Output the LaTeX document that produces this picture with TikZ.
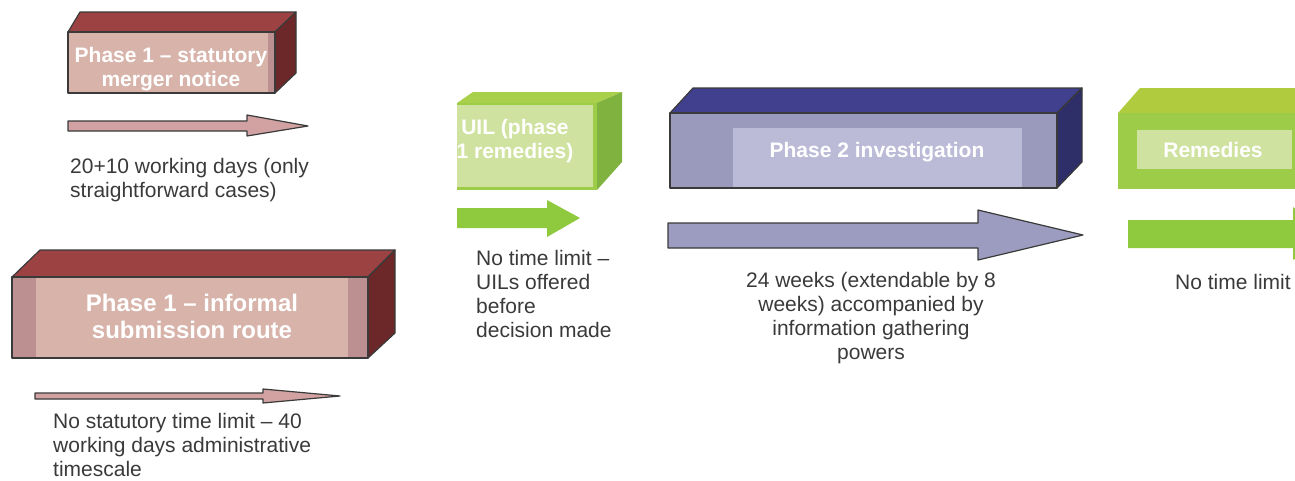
\documentclass[tikz,border=0pt]{standalone}
\usepackage{fontspec}
\setmainfont{Liberation Sans}
\definecolor{redtop}{HTML}{9C4242}
\definecolor{redside}{HTML}{6C2828}
\definecolor{redfront}{HTML}{D7B3AA}
\definecolor{redstrip}{HTML}{BC9090}
\definecolor{pinkarrow}{HTML}{D2A2A2}
\definecolor{outline}{HTML}{3A3A3A}
\definecolor{greentop}{HTML}{A8D04A}
\definecolor{greenside}{HTML}{7FB23E}
\definecolor{greenfront}{HTML}{9CCC48}
\definecolor{greeninset}{HTML}{CFE2A0}
\definecolor{greenarrow}{HTML}{8FCA3E}
\definecolor{remtop}{HTML}{B0CC3E}
\definecolor{bluetop}{HTML}{40408E}
\definecolor{blueside}{HTML}{2E2E68}
\definecolor{bluefront}{HTML}{9A9ABC}
\definecolor{blueinset}{HTML}{BBBBD8}
\definecolor{bluearrow}{HTML}{9C9CC0}
\definecolor{txt}{HTML}{3A3A3A}
\tikzset{
  edged/.style={draw=outline, line width=1.2pt, line join=round},
  boxtext/.style={text=white, font=\bfseries\fontsize{21}{24}\selectfont, align=center, inner sep=0pt},
  bigboxtext/.style={text=white, font=\bfseries\fontsize{24}{27}\selectfont, align=center, inner sep=0pt},
  note/.style={text=txt, font=\fontsize{21}{24}\selectfont, inner sep=0pt},
}
\begin{document}
\begin{tikzpicture}[x=1pt,y=-1pt]
\useasboundingbox (0,0) rectangle (1295,480);
\clip (0,0) rectangle (1295,480);

% ---- Box 1: Phase 1 statutory
\filldraw[edged, fill=redtop] (68,32) -- (80,12) -- (296,12) -- (275,32) -- cycle;
\filldraw[edged, fill=redside] (275,32) -- (296,12) -- (296,73) -- (275,93) -- cycle;
\fill[redfront] (68,32) rectangle (275,93);
\fill[redstrip] (268,32) rectangle (275,93);
\draw[edged] (68,32) rectangle (275,93);
\node[boxtext, anchor=base] (p1s) at (171,86) {Phase 1 – statutory\\merger notice};

% arrow 1
\filldraw[edged, fill=pinkarrow] (68,121) -- (247,121) -- (247,115) -- (308,126) -- (247,136) -- (247,131) -- (68,131) -- cycle;
\node[note, anchor=base west, align=left] (t1) at (70,197) {20+10 working days (only\\straightforward cases)};

% ---- Box 2: Phase 1 informal
\filldraw[edged, fill=redtop] (12,277) -- (40,250) -- (395,250) -- (368,277) -- cycle;
\filldraw[edged, fill=redside] (368,277) -- (395,250) -- (395,333) -- (368,358) -- cycle;
\fill[redfront] (12,277) rectangle (368,358);
\fill[redstrip] (12,277) rectangle (36,358);
\fill[redstrip] (348,277) rectangle (368,358);
\draw[edged] (12,277) rectangle (368,358);
\node[bigboxtext, anchor=base] (p1i) at (192,338) {Phase 1 – informal\\submission route};

% arrow 2
\filldraw[edged, fill=pinkarrow] (35,393) -- (263,393) -- (263,389) -- (340,396) -- (263,403) -- (263,399) -- (35,399) -- cycle;
\node[note, anchor=base west, align=left] (t2) at (53,476) {No statutory time limit – 40\\working days administrative\\timescale};

% ---- Box 3: UIL
\fill[greentop] (457,103) -- (473,92) -- (622,92) -- (597,103) -- cycle;
\fill[greenside] (597,103) -- (622,92) -- (622,162) -- (597,190) -- cycle;
\fill[greenfront] (457,103) rectangle (597,190);
\fill[greeninset] (457,105) rectangle (593,187);
\begin{scope}
\clip (457,103) rectangle (597,190);
\node[boxtext, anchor=base] (uil) at (515,158) {UIL (phase\\1 remedies)};
\end{scope}

% arrow 3
\fill[greenarrow] (457,208) -- (547,208) -- (547,200) -- (580,218) -- (547,237) -- (547,228) -- (457,228) -- cycle;
\node[note, anchor=base west, align=left] (t3) at (476,337) {No time limit –\\UILs offered\\before\\decision made};

% ---- Box 4: Phase 2
\filldraw[edged, fill=bluetop] (670,113) -- (693,88) -- (1082,88) -- (1057,113) -- cycle;
\filldraw[edged, fill=blueside] (1057,113) -- (1082,88) -- (1082,162) -- (1057,188) -- cycle;
\fill[bluefront] (670,113) rectangle (1057,188);
\fill[blueinset] (733,128) rectangle (1022,188);
\draw[edged] (670,113) rectangle (1057,188);
\node[boxtext, anchor=base] (p2) at (877,157) {Phase 2 investigation};

% arrow 4
\filldraw[edged, fill=bluearrow] (668,223) -- (978,223) -- (978,210) -- (1083,235) -- (978,260) -- (978,248) -- (668,248) -- cycle;
\node[note, anchor=base, align=center] (t4) at (871,359) {24 weeks (extendable by 8\\weeks) accompanied by\\information gathering\\powers};

% ---- Box 5: Remedies
\fill[remtop] (1118,113) -- (1140,88) -- (1300,88) -- (1300,113) -- cycle;
\fill[greenfront] (1118,113) rectangle (1300,189);
\fill[greeninset] (1137,130) rectangle (1292,169);
\node[boxtext, anchor=base] (rem) at (1213,157) {Remedies};

% arrow 5
\fill[greenarrow] (1128,220) -- (1293,220) -- (1293,207) -- (1330,234) -- (1293,260) -- (1293,248) -- (1128,248) -- cycle;
\node[note, anchor=base west] (t5) at (1175,289) {No time limit};
\end{tikzpicture}
\end{document}
